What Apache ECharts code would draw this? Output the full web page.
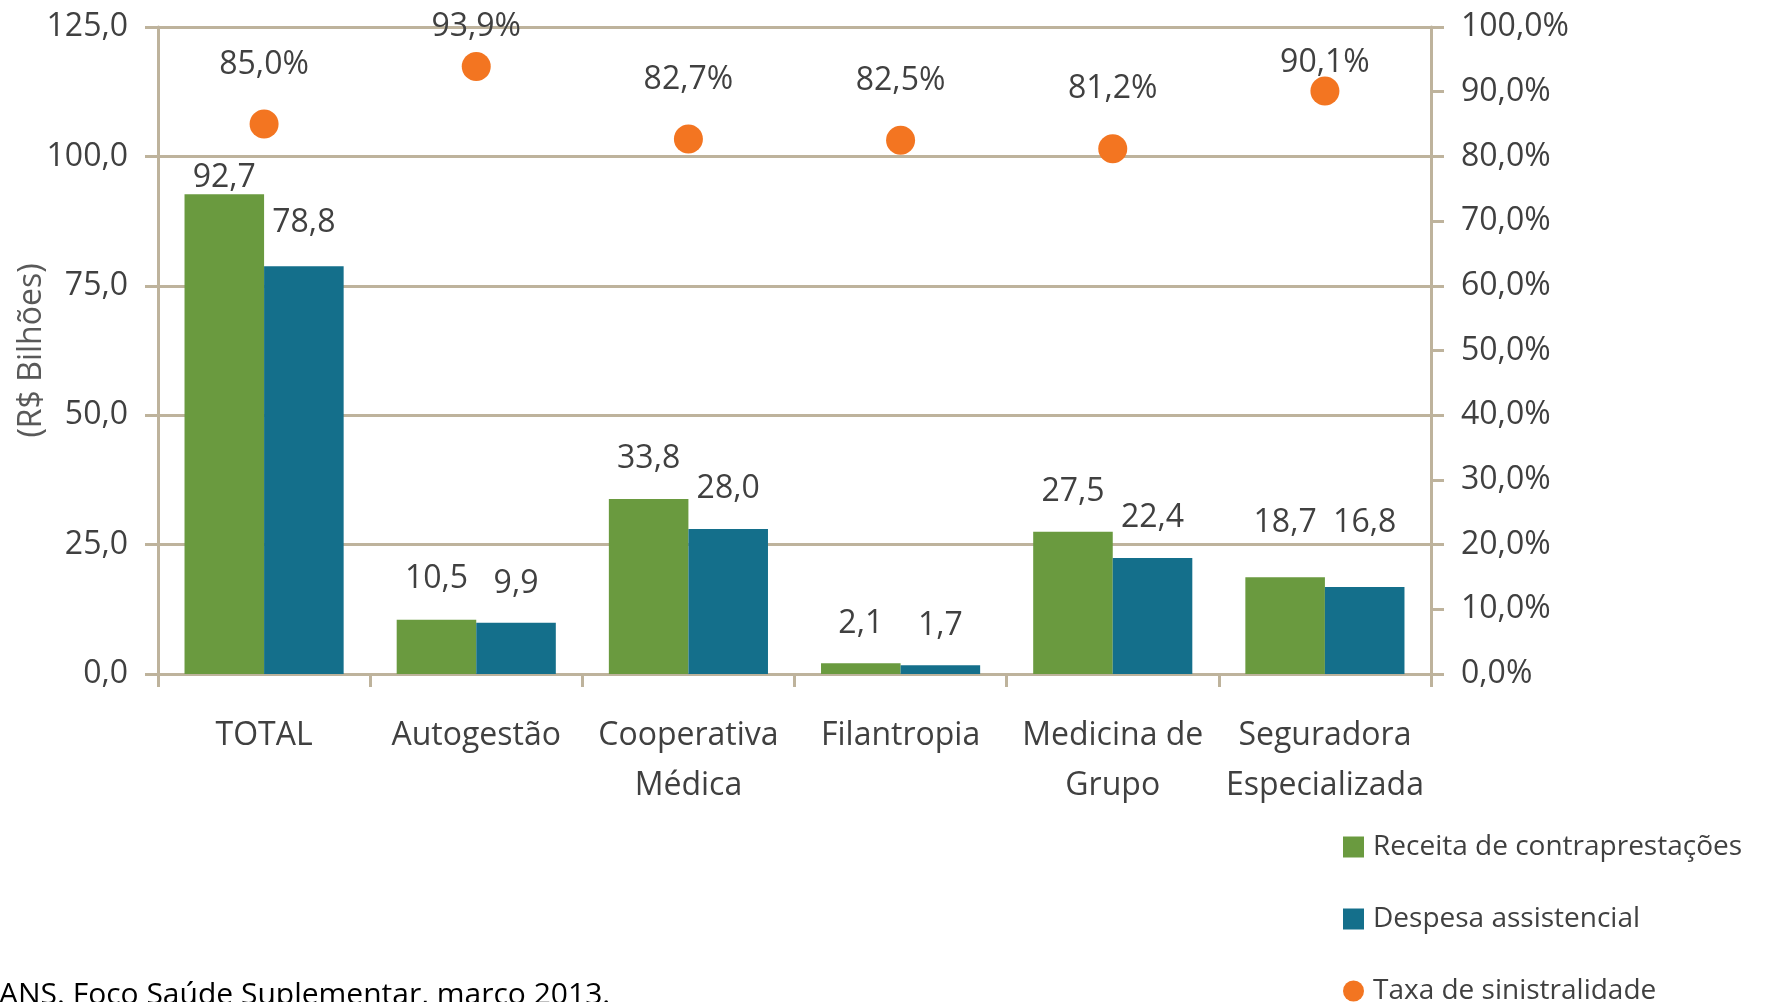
<!DOCTYPE html>
<html>
<head>
<meta charset="utf-8">
<script src="https://cdn.jsdelivr.net/npm/echarts@6/dist/echarts.min.js"></script>
<style>
    html, body { margin: 0; padding: 0; background: #fff; }
    #chart { width: 1767px; height: 1002px; }
</style>
</head>
<body>
<div id="chart"></div>
<script>
// dados
var categories = ['TOTAL', 'Autogestão', 'Cooperativa\nMédica', 'Filantropia', 'Medicina de\nGrupo', 'Seguradora\nEspecializada'];
var receita = [92.7, 10.5, 33.8, 2.1, 27.5, 18.7];
var despesa = [78.8, 9.9, 28.0, 1.7, 22.4, 16.8];
var taxa = [85.0, 93.9, 82.7, 82.5, 81.2, 90.1];
var leftTicks = [0, 125, 25];   // min, max, interval
var rightTicks = [0, 100, 10];

var font = '"Open Sans", "Noto Sans", sans-serif';
var gridColor = '#BEB39C';
var textColor = '#404040';
var fs = 32;

function fmt(v) {
    return v.toFixed(1).replace('.', ',');
}

// ajustes de distancia dos rotulos (como no original)
var barDist = { receita: [0, 25, 24, 23, 24, 38], despesa: [27, 23, 24, 23, 24, 48] };
var dotDist = [29, 9, 29, 29, 29, -2];

var myChart = echarts.init(document.getElementById('chart'));

var option = {
    animation: false,
    textStyle: { fontFamily: font },
    grid: { left: 158, right: 336, top: 27, bottom: 328, outerBoundsMode: 'none', containLabel: false },
    legend: {
        orient: 'vertical',
        left: 1343,
        top: 833,
        height: 220,
        padding: 0,
        itemGap: 44,
        itemWidth: 21,
        itemHeight: 21,
        textStyle: { fontSize: 28, lineHeight: 28, color: textColor, fontFamily: font, padding: [0, 0, 0, 4] },
        data: [
            { name: 'Receita de contraprestações', icon: 'rect' },
            { name: 'Despesa assistencial', icon: 'rect' },
            { name: 'Taxa de sinistralidade', icon: 'circle' }
        ]
    },
    graphic: [{
        type: 'text',
        left: -1,
        top: 980,
        style: {
            text: 'ANS. Foco Saúde Suplementar, março 2013.',
            font: '30px ' + font,
            fill: '#000'
        }
    }],
    xAxis: {
        type: 'category',
        data: categories,
        axisLine: { lineStyle: { color: gridColor, width: 3 } },
        axisTick: { show: true, length: 13, lineStyle: { color: gridColor, width: 3 } },
        axisLabel: {
            margin: 37, fontSize: fs, lineHeight: 50, color: textColor, interval: 0
        }
    },
    yAxis: [
        {
            type: 'value',
            min: leftTicks[0], max: leftTicks[1], interval: leftTicks[2],
            name: '(R$ Bilhões)',
            nameLocation: 'middle',
            nameGap: 110,
            nameMoveOverlap: false,
            nameRotate: 90,
            nameTextStyle: { fontSize: fs, color: '#595959' },
            axisLine: { show: true, lineStyle: { color: gridColor, width: 3 } },
            axisTick: { show: true, length: 13, lineStyle: { color: gridColor, width: 3 } },
            splitLine: { lineStyle: { color: gridColor, width: 3 } },
            axisLabel: { margin: 30, fontSize: fs, color: textColor, formatter: fmt }
        },
        {
            type: 'value',
            min: rightTicks[0], max: rightTicks[1], interval: rightTicks[2],
            position: 'right',
            axisLine: { show: true, lineStyle: { color: gridColor, width: 3 } },
            axisTick: { show: true, length: 13, lineStyle: { color: gridColor, width: 3 } },
            splitLine: { show: false },
            axisLabel: {
                margin: 30, fontSize: fs, color: textColor,
                formatter: function (v) { return fmt(v) + '%'; }
            }
        }
    ],
    series: [
        {
            name: 'Receita de contraprestações',
            type: 'bar',
            barGap: '0%',
            barCategoryGap: '25%',
            itemStyle: { color: '#6A9A3F' },
            data: receita.map(function (v, i) {
                return { value: v, label: { distance: barDist.receita[i] } };
            }),
            label: {
                show: true, position: 'top', fontSize: fs, color: textColor,
                formatter: function (p) { return fmt(p.value); }
            }
        },
        {
            name: 'Despesa assistencial',
            type: 'bar',
            itemStyle: { color: '#146F8B' },
            data: despesa.map(function (v, i) {
                return { value: v, label: { distance: barDist.despesa[i] } };
            }),
            label: {
                show: true, position: 'top', fontSize: fs, color: textColor,
                formatter: function (p) { return fmt(p.value); }
            }
        },
        {
            name: 'Taxa de sinistralidade',
            type: 'scatter',
            yAxisIndex: 1,
            symbolSize: 29,
            itemStyle: { color: '#F37521', opacity: 1 },
            data: taxa.map(function (v, i) {
                return { value: v, label: { distance: dotDist[i] } };
            }),
            label: {
                show: true, position: 'top', fontSize: fs, color: textColor,
                formatter: function (p) { return fmt(p.value) + '%'; }
            },
            z: 5
        }
    ]
};

myChart.setOption(option);
window.addEventListener('resize', function () {
    myChart.resize();
});
</script>
</body>
</html>
